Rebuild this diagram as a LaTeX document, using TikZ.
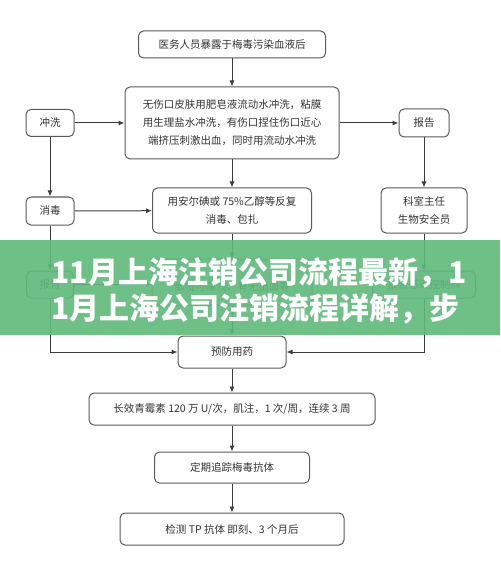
\documentclass[tikz,border=0pt]{standalone}
\usepackage{fontspec}
\setmainfont{Noto Sans CJK SC}
\usepackage{tikz}
\usetikzlibrary{arrows.meta, positioning}
\definecolor{lineGray}{HTML}{3C3C3C}
\definecolor{boxGray}{HTML}{5A5A5A}
\definecolor{textGray}{HTML}{333333}
\definecolor{bannerGreen}{RGB}{94,185,122}
\tikzset{
    flowbox/.style={rectangle, rounded corners=5pt, draw=boxGray, fill=white, line width=1pt,
        align=center, text=textGray, font=\fontsize{10.5}{18}\selectfont},
    flowarrow/.style={-{Latex[length=6pt, width=5pt]}, line width=1pt, lineGray},
    bannertext/.style={anchor=west, text=white, font=\fontsize{30}{36}\selectfont\bfseries},
}
\begin{document}
\begin{tikzpicture}[x=1pt, y=-1pt]
    \useasboundingbox (0,0) rectangle (500,577);
    \node[flowbox, minimum width=187pt, minimum height=27pt] (expose) at (232,44.5) {医务人员暴露于梅毒污染血液后};
    \node[flowbox, minimum width=214pt, minimum height=72pt] (wash) at (232,123) {无伤口皮肤用肥皂液流动水冲洗，粘膜\\用生理盐水冲洗，有伤口捏住伤口近心\\端挤压刺激出血，同时用流动水冲洗};
    \node[flowbox, minimum width=48pt, minimum height=27pt] (rinse) at (50,123) {冲洗};
    \node[flowbox, minimum width=50pt, minimum height=28pt] (report) at (424,123) {报告};
    \node[flowbox, minimum width=48pt, minimum height=28pt] (disinfect) at (50,211) {消毒};
    \node[flowbox, minimum width=159pt, minimum height=45pt] (iodine) at (232,210.5) {用安尔碘或 75\%乙醇等反复\\消毒、包扎};
    \node[flowbox, minimum width=86pt, minimum height=45pt] (officer) at (424,210.5) {科室主任\\生物安全员};
    \node[flowbox, minimum width=47pt, minimum height=27pt] (reportB) at (50,284.5) {报告};
    \node[flowbox, minimum width=160pt, minimum height=46pt] (assess) at (232,282) {\mbox{}\\部位与深浅、有无出血等};
    \node[flowbox, minimum width=103pt, minimum height=27pt] (infection) at (424,284.5) {报告感染控制科};
    \node[flowbox, minimum width=108pt, minimum height=32pt] (prevent) at (232,352) {预防用药};
    \node[flowbox, minimum width=286pt, minimum height=32pt] (penicillin) at (232,409) {长效青霉素 120 万 U/次，肌注，1 次/周，连续 3 周};
    \node[flowbox, minimum width=155pt, minimum height=31pt] (followup) at (232,467.5) {定期追踪梅毒抗体};
    \node[flowbox, minimum width=224pt, minimum height=32pt] (tptest) at (232,529) {检测 TP 抗体 即刻、3 个月后};

    \draw[flowarrow] (expose) -- (wash);
    \draw[flowarrow] (rinse) -- (wash);
    \draw[flowarrow] (wash) -- (report);
    \draw[flowarrow] (wash) -- (iodine);
    \draw[flowarrow] (rinse) -- (disinfect);
    \draw[flowarrow] (disinfect) -- (iodine);
    \draw[flowarrow] (report) -- (officer);
    \draw[flowarrow] (disinfect) -- (reportB);
    \draw[flowarrow] (iodine) -- (assess);
    \draw[flowarrow] (officer) -- (infection);
    \draw[flowarrow] (reportB.east) -- (reportB.east -| assess.west);
    \draw[flowarrow] (assess) -- (prevent);
    \draw[flowarrow] (reportB.south) |- (prevent.west);
    \draw[flowarrow] (infection.south) |- (prevent.east);
    \draw[flowarrow] (prevent) -- (penicillin);
    \draw[flowarrow] (penicillin) -- (followup);
    \draw[flowarrow] (followup) -- (tptest);

    \fill[bannerGreen, opacity=0.9] (0,240) rectangle (500,335);
    \node[bannertext] (titleA) at (48,273) {11月上海注销公司流程最新，1};
    \node[bannertext] (titleB) at (48,309) {1月上海公司注销流程详解，步};
\end{tikzpicture}
\end{document}
